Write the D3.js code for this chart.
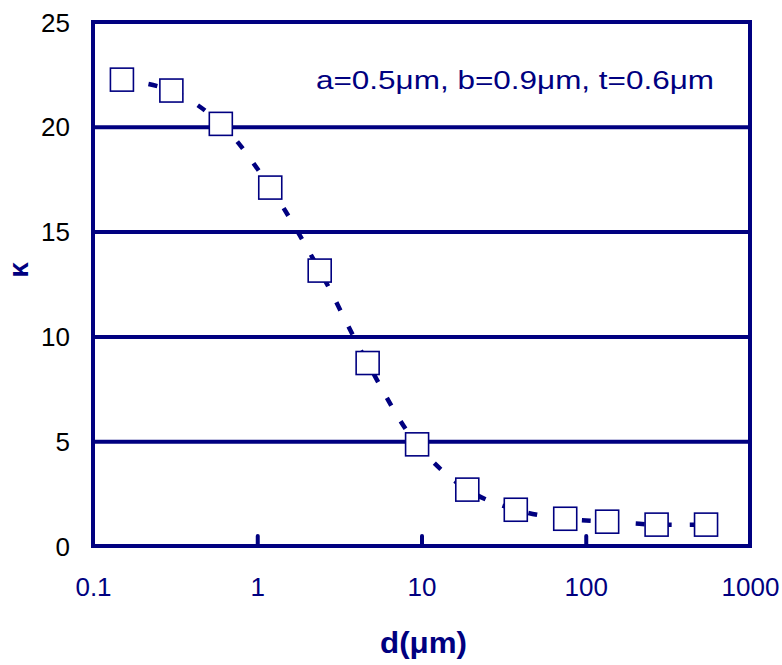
<!DOCTYPE html>
<html>
<head>
<meta charset="utf-8">
<script src="https://cdn.jsdelivr.net/npm/d3@7"></script>
<style>
  html, body { margin: 0; padding: 0; background: #fff; }
  svg { display: block; font-family: "Liberation Sans", Arial, sans-serif; }
</style>
</head>
<body>
<svg id="chart" width="782" height="665"></svg>
<script>
// ---- data ----
const dValues = [0.15, 0.3, 0.6, 1.2, 2.4, 4.7, 9.4, 19, 37.5, 75, 135, 270, 540];
const kappaValues = [22.25, 21.73, 20.14, 17.10, 13.14, 8.73, 4.85, 2.69, 1.73, 1.30, 1.16, 1.02, 1.02];
const xTickValues = [0.1, 1, 10, 100, 1000];
const xTickLabels = ["0.1", "1", "10", "100", "1000"];
const yTickValues = [0, 5, 10, 15, 20, 25];
const yTickLabels = ["0", "5", "10", "15", "20", "25"];
const xTitle = "d(\u03bcm)";
const yTitle = "\u03ba";
const note = "a=0.5\u03bcm, b=0.9\u03bcm, t=0.6\u03bcm";

const navy = "#000080";
const svg = d3.select("#chart");
const L = 93, R = 750, T = 22, B = 546;

const x = d3.scaleLog().domain([0.1, 1000]).range([L, R]);
const y = d3.scaleLinear().domain([0, 25]).range([B, T]);

// gridlines
const grid = svg.append("g").attr("transform", `translate(${L},0)`)
  .call(d3.axisLeft(y).tickValues([5, 10, 15, 20]).tickSize(-(R - L)).tickFormat(""));
grid.select(".domain").remove();
grid.selectAll("line").attr("stroke", navy).attr("stroke-width", 4);

// frame
svg.append("rect").attr("x", L).attr("y", T).attr("width", R - L).attr("height", B - T)
  .attr("fill", "none").attr("stroke", navy).attr("stroke-width", 4);

// x axis
const xa = svg.append("g").attr("transform", `translate(0,${B})`)
  .call(d3.axisBottom(x).tickValues(xTickValues).tickSize(-10)
    .tickFormat((d, i) => xTickLabels[i]));
xa.select(".domain").remove();
xa.selectAll("line").attr("stroke", navy).attr("stroke-width", 4)
  .attr("stroke-linecap", "round");
xa.selectAll(".tick line").filter(d => d === 0.1 || d === 1000).remove();
xa.selectAll("text").attr("fill", navy).attr("font-size", 26)
  .attr("y", 50).attr("dy", null);

// y axis labels
const ya = svg.append("g").attr("transform", `translate(${L},0)`)
  .call(d3.axisLeft(y).tickValues(yTickValues).tickSize(0).tickPadding(23)
    .tickFormat((d, i) => yTickLabels[i]));
ya.select(".domain").remove();
ya.selectAll("text").attr("fill", "#000").attr("font-size", 26).attr("dy", "0.35em");

// titles
svg.append("text").attr("x", 380).attr("y", 653)
  .attr("font-size", 29).attr("font-weight", "bold").attr("fill", navy)
  .attr("textLength", 87).attr("lengthAdjust", "spacingAndGlyphs").text(xTitle);
svg.append("text").attr("transform", "translate(28,270) rotate(-90)")
  .attr("text-anchor", "middle").attr("font-size", 28).attr("font-weight", "bold")
  .attr("fill", navy).text(yTitle);

// annotation
svg.append("text").attr("x", 316).attr("y", 89).attr("font-size", 26)
  .attr("fill", navy).attr("textLength", 398).attr("lengthAdjust", "spacingAndGlyphs")
  .text(note);

// dashed smooth line
const pts = dValues.map((d, i) => [x(d), y(kappaValues[i])]);
svg.append("path").attr("d", d3.line().curve(d3.curveCatmullRom.alpha(0.5))(pts))
  .attr("fill", "none").attr("stroke", navy).attr("stroke-width", 4.5)
  .attr("stroke-dasharray", "9,18");

// markers
const s = 23;
svg.append("g").selectAll("rect").data(pts).join("rect")
  .attr("x", d => d[0] - s / 2).attr("y", d => d[1] - s / 2)
  .attr("width", s).attr("height", s)
  .attr("fill", "#fff").attr("stroke", navy).attr("stroke-width", 1.6);
</script>
</body>
</html>
